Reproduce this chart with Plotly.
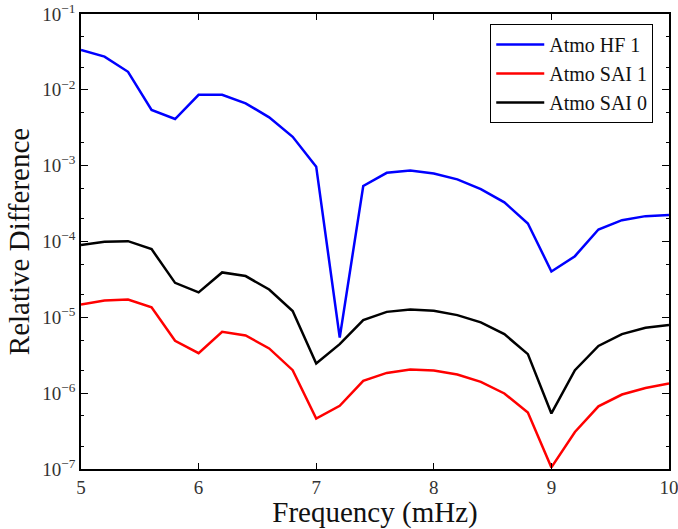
import plotly.graph_objects as go

freq = [5.0, 5.2, 5.4, 5.6, 5.8, 6.0, 6.2, 6.4, 6.6, 6.8, 7.0, 7.2, 7.4,
        7.6, 7.8, 8.0, 8.2, 8.4, 8.6, 8.8, 9.0, 9.2, 9.4, 9.6, 9.8, 10.0]

atmo_hf_1 = [3.35e-2, 2.74e-2, 1.73e-2, 5.42e-3, 4.12e-3, 8.6e-3, 8.6e-3, 6.64e-3,
             4.34e-3, 2.4e-3, 9.7e-4, 5.4e-6, 5.4e-4, 8.05e-4, 8.65e-4, 7.9e-4,
             6.6e-4, 4.9e-4, 3.28e-4, 1.73e-4, 4.03e-5, 6.4e-5, 1.44e-4, 1.91e-4,
             2.16e-4, 2.23e-4]

atmo_sai_1 = [1.48e-5, 1.67e-5, 1.72e-5, 1.36e-5, 4.9e-6, 3.37e-6, 6.44e-6, 5.77e-6,
              3.89e-6, 2.01e-6, 4.63e-7, 6.8e-7, 1.45e-6, 1.85e-6, 2.05e-6, 1.99e-6,
              1.76e-6, 1.41e-6, 9.9e-7, 5.56e-7, 1.05e-7, 3.08e-7, 6.7e-7, 9.6e-7,
              1.17e-6, 1.34e-6]

atmo_sai_0 = [8.97e-5, 9.9e-5, 1.01e-4, 7.94e-5, 2.85e-5, 2.13e-5, 3.91e-5, 3.5e-5,
              2.33e-5, 1.21e-5, 2.47e-6, 4.43e-6, 9.2e-6, 1.18e-5, 1.27e-5, 1.22e-5,
              1.07e-5, 8.57e-6, 6.0e-6, 3.27e-6, 5.4e-7, 2.01e-6, 4.2e-6, 6.0e-6,
              7.3e-6, 7.9e-6]

series_names = ["Atmo HF 1", "Atmo SAI 1", "Atmo SAI 0"]
series_colors = ["#0000ff", "#ff0000", "#000000"]

x_ticks = [5, 6, 7, 8, 9, 10]
y_tickvals = [1e-7, 1e-6, 1e-5, 1e-4, 1e-3, 1e-2, 1e-1]
y_ticktext = ["10<sup>−7</sup>", "10<sup>−6</sup>", "10<sup>−5</sup>", "10<sup>−4</sup>",
              "10<sup>−3</sup>", "10<sup>−2</sup>", "10<sup>−1</sup>"]

font_family = "Liberation Serif, DejaVu Serif, serif"

fig = go.Figure()
for name, ys, col in zip(series_names, [atmo_hf_1, atmo_sai_1, atmo_sai_0], series_colors):
    fig.add_trace(go.Scatter(x=freq, y=ys, mode="lines", name=name,
                             line=dict(color=col, width=2.5)))

fig.update_layout(
    width=678, height=529,
    margin=dict(l=81, r=9, t=14, b=60),
    plot_bgcolor="white", paper_bgcolor="white",
    font=dict(family=font_family, color="#222222", size=19),
    showlegend=True,
    legend=dict(x=0.696, y=0.978, xanchor="left", yanchor="top",
                bordercolor="#000000", borderwidth=1, bgcolor="white",
                font=dict(family=font_family, size=20, color="#111111"),
                itemwidth=48, tracegroupgap=0),
)

fig.update_xaxes(
    range=[5, 10], tickvals=x_ticks, ticktext=[str(v) for v in x_ticks],
    ticks="inside", ticklen=6, tickwidth=1, tickcolor="#000000",
    showline=True, linecolor="#000000", linewidth=1.5, mirror="ticks",
    showgrid=False, zeroline=False, automargin=False, ticklabeloverflow="allow",
    title=dict(text="Frequency (mHz)", font=dict(family=font_family, size=29, color="#111111"),
               standoff=11),
    tickfont=dict(family=font_family, size=19, color="#333333"),
)

fig.update_yaxes(
    type="log", range=[-7, -1], tickvals=y_tickvals, ticktext=y_ticktext,
    ticks="inside", ticklen=7, tickwidth=1, tickcolor="#000000",
    minor=dict(ticks="inside", ticklen=3.5, tickcolor="#000000", tickwidth=1, showgrid=False),
    showline=True, linecolor="#000000", linewidth=1.5, mirror="ticks",
    showgrid=False, zeroline=False, automargin=False, ticklabeloverflow="allow",
    title=dict(text="Relative Difference", font=dict(family=font_family, size=29, color="#111111"),
               standoff=4),
    tickfont=dict(family=font_family, size=19, color="#333333"),
)

fig.write_html("out.html", config={"displayModeBar": False},
               post_script="document.body.style.margin='0';")
